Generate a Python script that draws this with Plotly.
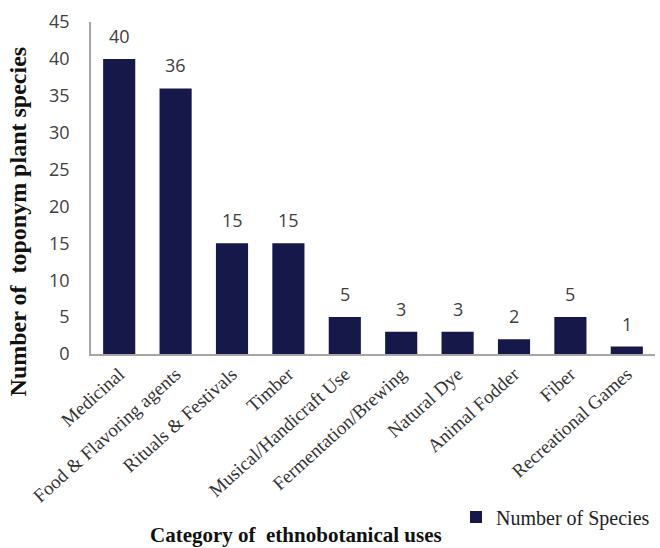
import plotly.graph_objects as go

# Ethnobotanical use categories and species counts
categories = [
    "Medicinal",
    "Food & Flavoring agents",
    "Rituals & Festivals",
    "Timber",
    "Musical/Handicraft Use",
    "Fermentation/Brewing",
    "Natural Dye",
    "Animal Fodder",
    "Fiber",
    "Recreational Games",
]
species_counts = [40, 36, 15, 15, 5, 3, 3, 2, 5, 1]
y_ticks = [0, 5, 10, 15, 20, 25, 30, 35, 40, 45]

BAR_COLOR = "#16184a"
SERIF = "Liberation Serif, Times New Roman, serif"
SANS = "Open Sans, Liberation Sans, sans-serif"

fig = go.Figure(
    go.Bar(
        x=categories,
        y=species_counts,
        name="Number of Species",
        marker=dict(color=BAR_COLOR, line=dict(width=0)),
        showlegend=True,
    )
)

# value labels sitting above each bar
value_labels = [
    dict(
        x=cat,
        y=val,
        xref="x",
        yref="y",
        text=str(val),
        showarrow=False,
        yanchor="bottom",
        yshift=9,
        font=dict(family=SANS, size=18, color="#404040"),
    )
    for cat, val in zip(categories, species_counts)
]

fig.update_layout(
    width=660,
    height=548,
    margin=dict(l=91, r=5, t=22, b=194),
    paper_bgcolor="white",
    plot_bgcolor="white",
    bargap=0.43,
    showlegend=True,
    legend=dict(
        x=1.0,
        y=-0.491,
        xanchor="right",
        yanchor="middle",
        font=dict(family=SERIF, size=20, color="#222222"),
        itemwidth=30,
        bgcolor="rgba(0,0,0,0)",
    ),
    xaxis=dict(
        tickangle=-42,
        tickfont=dict(family=SERIF, size=19, color="#333333"),
        showline=True,
        linecolor="#a6a6a6",
        linewidth=1.5,
        ticks="",
        showgrid=False,
    ),
    yaxis=dict(
        range=[0, 45],
        tickvals=y_ticks,
        tickfont=dict(family=SANS, size=18, color="#404040"),
        ticklabelstandoff=16,
        showline=True,
        linecolor="#a6a6a6",
        linewidth=1.5,
        ticks="",
        showgrid=False,
        zeroline=False,
    ),
    annotations=value_labels
    + [
        dict(
            text="<b>Number of  toponym plant species</b>",
            xref="paper",
            yref="paper",
            x=-0.129,
            y=0.40,
            xanchor="center",
            yanchor="middle",
            textangle=-90,
            showarrow=False,
            font=dict(family=SERIF, size=24, color="#111111"),
        ),
        dict(
            text="<b>Category of  ethnobotanical uses</b>",
            xref="paper",
            yref="paper",
            x=0.363,
            y=-0.546,
            xanchor="center",
            yanchor="middle",
            showarrow=False,
            font=dict(family=SERIF, size=21, color="#111111"),
        ),
    ],
)

fig.write_html("out.html")
